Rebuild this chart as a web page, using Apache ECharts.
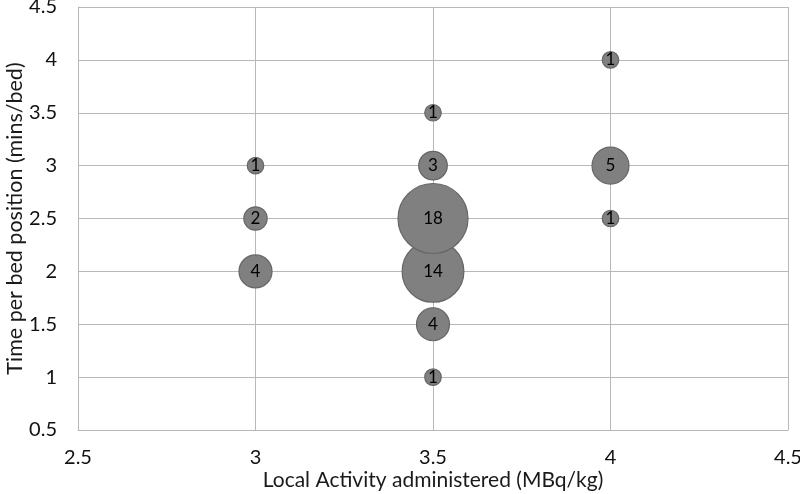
<!DOCTYPE html>
<html><head><meta charset="utf-8">
<script src="https://cdn.jsdelivr.net/npm/echarts@6/dist/echarts.min.js"></script>
<style>html,body{margin:0;padding:0;background:#fff}#c{width:800px;height:494px}</style>
</head><body><div id="c"></div>
<script>
// Data: [activity (MBq/kg), time per bed (mins/bed), count]
const activity = [3, 3, 3, 3.5, 3.5, 3.5, 3.5, 3.5, 3.5, 4, 4, 4];
const timePerBed = [3, 2.5, 2, 3.5, 3, 2, 2.5, 1.5, 1, 4, 3, 2.5];
const counts = [1, 2, 4, 1, 3, 14, 18, 4, 1, 1, 5, 1];
const xTicks = [2.5, 3, 3.5, 4, 4.5];
const yTicks = [0.5, 1, 1.5, 2, 2.5, 3, 3.5, 4, 4.5];

const data = activity.map((x, i) => [x, timePerBed[i], counts[i]]);
const font = 'Lato, "Open Sans", sans-serif';
const gridColor = '#b8b8b8';
const chart = echarts.init(document.getElementById('c'));
chart.setOption({
  animation: false,
  grid: { left: 78, right: 12, top: 7, bottom: 64, containLabel: false, outerBoundsMode: 'none' },
  xAxis: {
    type: 'value', min: xTicks[0], max: xTicks[xTicks.length - 1], interval: 0.5,
    name: 'Local Activity administered (MBq/kg)', nameLocation: 'middle', nameGap: 40,
    nameMoveOverlap: false,
    nameTextStyle: { fontFamily: font, fontSize: 21, color: '#1a1a1a' },
    axisLine: { show: true, lineStyle: { color: gridColor, width: 1 } },
    axisTick: { show: false },
    axisLabel: { fontFamily: font, fontSize: 20, color: '#111', margin: 18, showMinLabel: true, showMaxLabel: true },
    splitLine: { show: true, lineStyle: { color: gridColor, width: 1 } }
  },
  yAxis: {
    type: 'value', min: yTicks[0], max: yTicks[yTicks.length - 1], interval: 0.5,
    name: 'Time per bed position (mins/bed)', nameLocation: 'middle', nameGap: 52,
    nameMoveOverlap: false,
    nameTextStyle: { fontFamily: font, fontSize: 21.5, color: '#1a1a1a' },
    axisLine: { show: true, lineStyle: { color: gridColor, width: 1 } },
    axisTick: { show: false },
    axisLabel: { fontFamily: font, fontSize: 20, color: '#111', margin: 21 },
    splitLine: { show: true, lineStyle: { color: gridColor, width: 1 } }
  },
  series: [{
    type: 'scatter',
    data: data,
    symbolSize: d => 16.5 * Math.sqrt(d[2]),
    itemStyle: { color: '#808080', borderColor: '#666666', borderWidth: 1.2, opacity: 1 },
    label: {
      show: true, position: 'inside', formatter: p => p.value[2],
      fontFamily: font, fontSize: 17, color: '#000'
    }
  }]
});
</script></body></html>
